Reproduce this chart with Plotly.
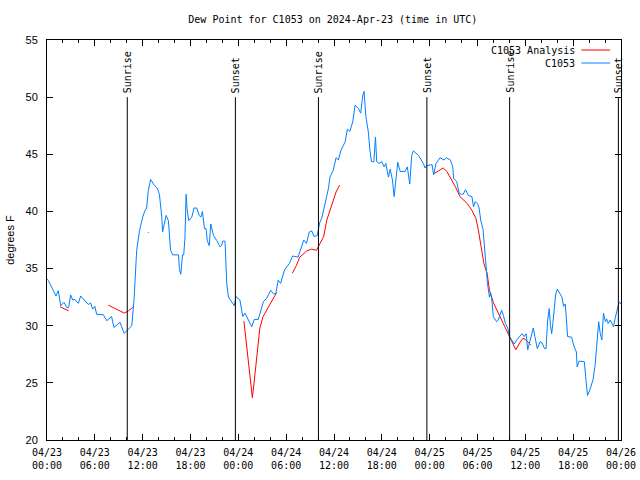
import pandas as pd
import plotly.graph_objects as go

START = pd.Timestamp("2024-04-23 00:00")

# C1053 observed dew point (hours since 04/23 00:00 UTC, degrees F)
obs_hours = [0.0, 0.17, 1.13, 1.42, 1.72, 2.13, 2.47, 2.72, 2.97, 3.22, 3.5, 3.93, 4.23, 4.77, 5.19,
             5.45, 5.73, 6.0, 6.23, 7.07, 7.49, 8.1, 8.4, 9.16, 9.67, 10.08, 10.63, 10.92, 11.25, 11.6,
             12.0, 12.3, 12.5, 12.7, 13.0, 13.35, 13.85, 14.1, 14.4, 14.5, 14.7, 14.94, 15.23, 15.5,
             15.77, 16.5, 16.6, 16.78, 17.0, 17.15, 17.3, 17.45, 17.57, 17.78, 18.16, 18.45, 18.78,
             19.1, 19.3, 19.5, 19.75, 19.95, 20.1, 20.35, 20.54, 20.66, 20.88, 21.3, 21.7, 21.9, 22.05,
             22.33, 22.55, 22.76, 23.2, 23.5, 23.7, 24.2, 24.55, 24.84, 25.26, 25.68, 26.0, 26.5,
             27.14, 27.56, 28.06, 28.4, 28.7, 29.0, 29.3, 29.8, 30.4, 30.8, 31.5, 31.95, 32.2, 32.55,
             32.9, 33.2, 33.5, 33.9, 34.2, 34.5, 34.75, 35.1, 35.3, 35.5, 35.9, 36.26, 36.55, 36.85,
             37.4, 37.68, 38.0, 38.35, 38.65, 39.06, 39.35, 39.6, 39.77, 40.0, 40.3, 40.5, 40.7, 41.0,
             41.2, 41.36, 41.65, 41.99, 42.3, 42.5, 42.83, 43.05, 43.33, 43.54, 43.75, 44.0, 44.3,
             44.9, 45.2, 45.5, 45.75, 45.96, 46.6, 47.0, 47.2, 47.43, 47.6, 48.05, 48.3, 48.5, 48.8,
             49.3, 49.55, 49.8, 50.1, 50.6, 50.9, 51.0, 51.4, 51.7, 52.0, 52.2, 52.5, 52.86, 53.3,
             53.5, 53.7, 54.0, 54.2, 54.4, 54.7, 54.9, 55.1, 55.25, 55.5, 55.65, 55.8, 55.99, 56.4,
             56.6, 56.8, 57.04, 57.25, 57.5, 57.8, 58.0, 58.3, 58.6, 58.9, 59.3, 59.6, 59.85, 60.1,
             60.3, 60.5, 60.7, 61.0, 61.2, 61.5, 61.86, 62.1, 62.4, 62.6, 62.8, 63.0, 63.15, 63.3,
             63.45, 63.6, 63.8, 64.0, 64.4, 64.6, 64.8, 65.0, 65.1, 65.3, 65.8, 66.1, 66.4, 66.5,
             66.75, 67.1, 67.4, 67.6, 67.8, 68.1, 68.5, 68.76, 68.97, 69.2, 69.4, 69.6, 69.8, 70.05,
             70.2, 70.4, 70.64, 71.06, 71.25, 71.56, 71.77, 72.0]
obs_values = [34.1, 33.95, 32.6, 33.07, 31.75, 32.05, 31.6, 31.6, 32.7, 32.25, 32.3, 31.96, 32.6, 32.2, 31.85,
              32.0, 31.46, 31.7, 31.0, 30.96, 30.44, 30.8, 29.85, 30.3, 29.33, 29.6, 30.0, 32.3, 36.6, 38.3,
              39.5, 40.1, 40.3, 41.8, 42.8, 42.4, 42.0, 41.5, 39.5, 38.2, 38.8, 39.65, 39.2, 36.6,
              36.2, 36.2, 35.0, 34.5, 36.2, 36.2, 37.6, 41.5, 40.2, 39.2, 39.5, 40.3, 40.3,
              39.65, 39.5, 40.0, 38.5, 38.5, 37.45, 37.0, 38.9, 38.5, 37.9, 37.45, 36.9, 37.0, 37.4,
              37.4, 33.65, 32.5, 32.05, 31.75, 32.55, 32.25, 30.8, 31.1, 30.5, 29.9, 30.55, 30.55,
              32.1, 32.4, 33.1, 32.8, 32.8, 34.0, 33.7, 34.9, 35.45, 36.1, 36.0, 36.9, 37.5, 37.2,
              38.2, 38.3, 37.8, 37.9, 39.0, 39.5, 40.3, 41.3, 42.0, 43.0, 43.6, 44.7, 44.5, 45.3,
              46.1, 47.2, 47.0, 47.85, 49.3, 49.0, 48.6, 50.1, 50.5, 48.3, 47.0, 45.4, 44.35, 44.35,
              46.5, 44.35, 44.2, 44.35, 43.9, 44.2, 43.0, 43.7, 42.75, 41.3, 42.75, 44.3, 43.5,
              43.5, 43.9, 42.4, 44.9, 45.3, 44.9, 44.5, 44.2, 43.8, 44.0, 44.06, 44.1, 43.2, 44.2,
              44.7, 44.6, 44.5, 44.7, 44.5, 43.9, 42.9, 42.6, 41.6, 41.5, 41.5, 41.9, 41.4, 41.3,
              40.4, 40.85, 40.7, 40.3, 39.25, 38.4, 36.6, 34.9, 33.7, 32.5, 32.9, 32.25, 30.8, 30.35,
              30.5, 30.9, 31.35, 30.9, 30.2, 29.8, 29.05, 28.75, 28.4, 28.75, 29.05, 29.3, 29.05, 29.3,
              27.9, 28.5, 29.05, 29.8, 29.05, 28.0, 28.6, 28.5, 28.0, 28.0, 30.5, 31.5, 30.0, 29.3,
              30.2, 31.5, 32.7, 33.2, 32.8, 32.5, 31.7, 31.9, 31.1, 29.05, 29.0, 28.2, 27.7, 26.4,
              26.9, 26.9, 26.85, 25.3, 23.9, 24.4, 25.3, 26.6, 28.6, 30.35, 29.3, 28.75, 31.1, 30.35,
              30.6, 30.2, 30.5, 29.9, 30.6, 31.4, 32.1, 31.9]

# C1053 Analysis (None = gap)
ana_hours = [1.63, 2.2, 2.72, 4.0, 5.55, 5.65, 6.5, 7.7, 8.5, 9.2, 9.7, 10.2, 10.75, 11.5, 12.65, 12.75, 20.0,
             24.7, 25.05, 25.4, 25.76, 25.97, 26.3, 26.7, 27.1, 27.8, 28.4, 28.8, 29.8,
             30.78, 31.3, 31.7, 32.6, 33.2, 33.8, 34.25, 34.7, 35.1, 35.5, 35.9, 36.26, 36.7, 42.0,
             48.5, 49.7, 50.15, 50.8, 51.2, 51.8, 52.7, 53.3, 53.8, 54.1, 54.5, 54.8, 55.2, 55.5,
             56.0, 56.6, 57.25, 57.9, 58.4, 58.8, 59.3, 59.7, 60.0, 60.7]
ana_values = [31.67, 31.45, 31.3, None, 31.8, 31.8, None, 31.8, 31.5, 31.3, 31.1, 31.3, 31.6, None, 38.15, 38.15, None,
              30.4, 28.2, 25.8, 23.7, 25.0, 27.0, 29.8, 30.8, 31.7, 32.4, 32.9, None,
              34.6, 35.3, 36.0, 36.55, 36.7, 36.6, 37.2, 37.8, 39.25, 40.1, 41.1, 41.7, 42.3, None,
              43.3, 43.8, 43.5, 42.75, 42.2, 41.3, 40.7, 40.1, 39.4, 38.4, 36.6, 35.45, 34.6, 33.1,
              32.0, 31.1, 30.2, 29.2, 28.45, 27.9, 28.5, 28.9, 28.8, 28.3]

sun_labels = ["Sunrise", "Sunset", "Sunrise", "Sunset", "Sunrise", "Sunset"]
sun_hours = [10.07, 23.63, 34.05, 47.65, 58.03, 71.67]

tick_hours = list(range(0, 73, 6))

def t(h):
    return START + pd.Timedelta(hours=h)

obs_t = [t(h) for h in obs_hours]
ana_t = [t(h) for h in ana_hours]
tick_vals = [t(h) for h in tick_hours]
tick_text = [t(h).strftime("%m/%d") + "<br>" + t(h).strftime("%H:%M") for h in tick_hours]

BLUE = "#0080ff"
RED = "#ff0000"
MONO = "DejaVu Sans Mono"
SANS = "Liberation Sans"

fig = go.Figure()
fig.add_trace(go.Scatter(x=ana_t, y=ana_values, mode="lines", name="C1053 Analysis",
                         line=dict(color=RED, width=1), connectgaps=False, showlegend=False))
fig.add_trace(go.Scatter(x=obs_t, y=obs_values, mode="lines", name="C1053",
                         line=dict(color=BLUE, width=1), showlegend=False))

line_top = 0.857
for lab, h in zip(sun_labels, sun_hours):
    fig.add_shape(type="line", xref="x", yref="paper", x0=t(h), x1=t(h), y0=0, y1=line_top,
                  line=dict(color="black", width=1), layer="above")
    fig.add_annotation(x=t(h), y=line_top + 0.008, xref="x", yref="paper", text=lab, textangle=-90,
                       showarrow=False, xanchor="center", yanchor="bottom", borderpad=0,
                       font=dict(family=MONO, size=10, color="black"))

# legend drawn gnuplot-style (text right, sample line after)
leg = [("C1053 Analysis", RED, 0.975), ("C1053", BLUE, 0.9425)]
for name, col, yp in leg:
    fig.add_annotation(x=0.921, y=yp, xref="paper", yref="paper", text=name, showarrow=False,
                       xanchor="right", yanchor="middle", borderpad=0,
                       font=dict(family=MONO, size=10, color="black"))
    fig.add_shape(type="line", xref="paper", yref="paper", x0=0.931, x1=0.981, y0=yp, y1=yp,
                  line=dict(color=col, width=1))

fig.update_layout(
    width=640, height=480,
    margin=dict(l=47, r=19, t=40, b=40, autoexpand=False),
    paper_bgcolor="white", plot_bgcolor="white",
    title=dict(text="Dew Point for C1053 on 2024-Apr-23 (time in UTC)", x=0.52, xanchor="center",
               y=1 - 19 / 480, yref="container", yanchor="middle",
               font=dict(family=MONO, size=10, color="black")),
    xaxis=dict(range=[t(0), t(72)], tickvals=tick_vals, ticktext=tick_text, ticks="inside", ticklen=6,
               tickcolor="black", showline=True, linecolor="black", linewidth=1, mirror="ticks",
               showgrid=False, zeroline=False, automargin=False, ticklabelstandoff=3,
               tickfont=dict(family=MONO, size=10, color="black"),
               minor=dict(dtick=2 * 3600 * 1000, ticks="inside", ticklen=3, tickcolor="black", showgrid=False)),
    yaxis=dict(range=[20, 55], dtick=5, ticks="inside", ticklen=6, tickcolor="black", showline=True,
               linecolor="black", linewidth=1, mirror="ticks", showgrid=False, zeroline=False,
               automargin=False, tickfont=dict(family=SANS, size=11, color="black"), ticklabelstandoff=6,
               title=dict(text="degrees F", font=dict(family=SANS, size=11, color="black"), standoff=8)),
)

fig.write_html("out.html", config={"displayModeBar": False},
               post_script="document.body.style.margin='0';")
